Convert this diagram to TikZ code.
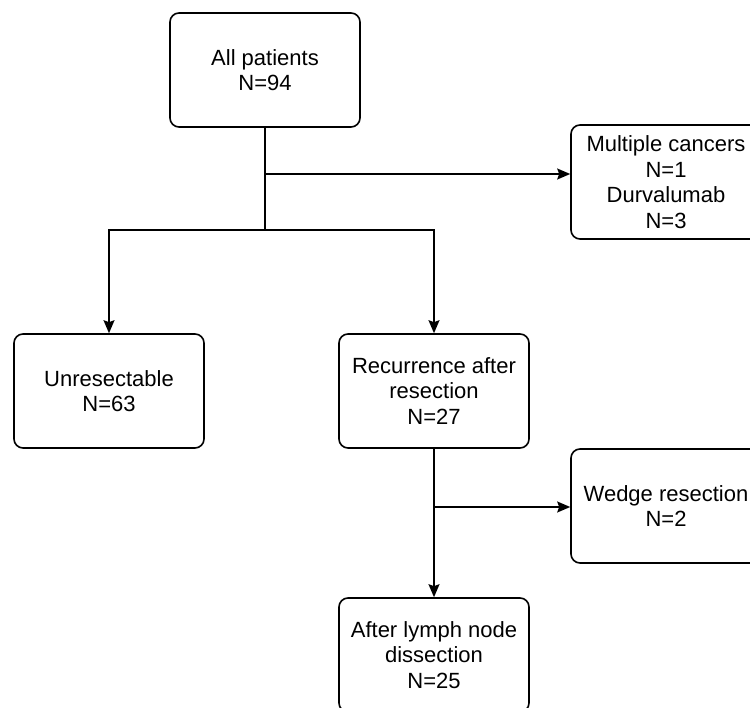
\documentclass[tikz,border=0pt]{standalone}
\usepackage{fontspec}
\setmainfont{Liberation Sans}
\usetikzlibrary{arrows.meta}
\begin{document}
\begin{tikzpicture}[x=1pt,y=-1pt,
  box/.style={draw, line width=1.6pt, rounded corners=9pt, minimum width=190pt, minimum height=114pt, inner sep=0pt, align=center, font=\fontsize{22}{25.5}\selectfont},
  conn/.style={line width=1.6pt},
  arr/.style={conn, -{Stealth[length=13pt,width=11pt,inset=2pt]}}]
\useasboundingbox (0,0) rectangle (750,708);
\clip (0,0) rectangle (750,708);
\node[box] (all) at (265,70) {All patients\\N=94};
\node[box] (mc) at (666,182) {Multiple cancers\\N=1\\Durvalumab\\N=3};
\node[box] (unres) at (109,391) {Unresectable\\N=63};
\node[box] (rec) at (434,391) {Recurrence after\\resection\\N=27};
\node[box] (wedge) at (666,506) {Wedge resection\\N=2};
\node[box] (lymph) at (434,655) {After lymph node\\dissection\\N=25};
\coordinate (b1) at (265,174);
\coordinate (b2) at (265,230);
\coordinate (b3) at (434,507);
\draw[conn] (all.south) -- (b2);
\draw[arr] (b1) -- (mc.west |- b1);
\draw[arr] (b2) -| (unres.north);
\draw[arr] (b2) -| (rec.north);
\draw[arr] (rec.south) -- (lymph.north);
\draw[arr] (b3) -- (wedge.west |- b3);
\end{tikzpicture}
\end{document}
